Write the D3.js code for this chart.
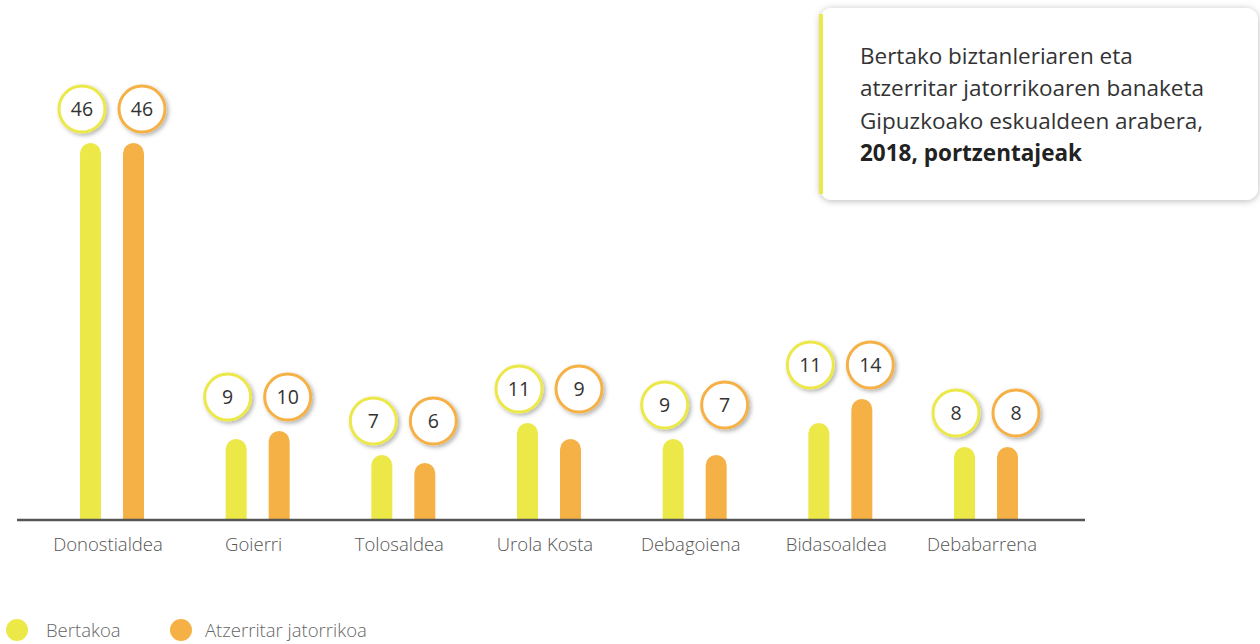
<!DOCTYPE html>
<html>
<head>
<meta charset="utf-8">
<script src="https://cdn.jsdelivr.net/npm/d3@7"></script>
<style>
  html, body { margin: 0; padding: 0; background: #fff; }
  svg { display: block; font-family: "Open Sans", "Noto Sans", sans-serif; }
</style>
</head>
<body>
<div id="chart"></div>
<script>
// Eskualdeak eta balioak (%)
const eskualdeak = ["Donostialdea", "Goierri", "Tolosaldea", "Urola Kosta", "Debagoiena", "Bidasoaldea", "Debabarrena"];
const bertakoa = [46, 9, 7, 11, 9, 11, 8];
const atzerritarra = [46, 10, 6, 9, 7, 14, 8];
const serieIzenak = ["Bertakoa", "Atzerritar jatorrikoa"];
const koloreak = ["#ece848", "#f5b145"];
const izenburua = ["Bertako biztanleriaren eta", "atzerritar jatorrikoaren banaketa", "Gipuzkoako eskualdeen arabera,"];
const izenburuLodia = "2018, portzentajeak";

const width = 1260, height = 644;
const baseY = 519;

const svg = d3.select("#chart").append("svg")
  .attr("width", width).attr("height", height);

const defs = svg.append("defs");
const shadow = defs.append("filter").attr("id", "itzala")
  .attr("x", "-30%").attr("y", "-30%").attr("width", "160%").attr("height", "160%");
shadow.append("feDropShadow").attr("dx", 2).attr("dy", 2)
  .attr("stdDeviation", 2).attr("flood-color", "#000").attr("flood-opacity", 0.3);
const boxShadow = defs.append("filter").attr("id", "kaxaItzala")
  .attr("x", "-10%").attr("y", "-20%").attr("width", "120%").attr("height", "140%");
boxShadow.append("feDropShadow").attr("dx", 0).attr("dy", 1)
  .attr("stdDeviation", 3.5).attr("flood-color", "#000").attr("flood-opacity", 0.28);

const x = d3.scalePoint().domain(eskualdeak).range([112, 986]);
const y = d3.scaleLinear().domain([0, 46]).range([baseY - 8, baseY - 376]);

const barW = 21, barOff = 21.5, circOff = 30, r = 23;

function barPath(cx, top) {
  const x0 = cx - barW / 2, x1 = cx + barW / 2, rr = barW / 2;
  return `M${x0},${baseY} L${x0},${top + rr} A${rr},${rr} 0 0 1 ${x1},${top + rr} L${x1},${baseY} Z`;
}

const datuak = eskualdeak.map((e, i) => ({ e, v: [bertakoa[i], atzerritarra[i]] }));

const taldeak = svg.append("g").selectAll("g").data(datuak).join("g");

// Barrak eta balio-biribilak
taldeak.each(function (d) {
  const g = d3.select(this);
  const cx = x(d.e);
  d.v.forEach((v, s) => {
    g.append("path")
      .attr("d", barPath(cx + (s === 0 ? -barOff : barOff), y(v)))
      .attr("fill", koloreak[s]);
  });
  const cy = y(d3.max(d.v)) - 34;
  d.v.forEach((v, s) => {
    const bx = cx + (s === 0 ? -circOff : circOff);
    g.append("circle")
      .attr("cx", bx).attr("cy", cy).attr("r", r)
      .attr("fill", "#fff").attr("stroke", koloreak[s]).attr("stroke-width", 3)
      .attr("filter", "url(#itzala)");
    g.append("text")
      .attr("x", bx).attr("y", cy).attr("dy", "0.36em")
      .attr("text-anchor", "middle")
      .attr("font-size", 19.5).attr("fill", "#333")
      .text(v);
  });
});

// Ardatza
svg.append("line")
  .attr("x1", 17).attr("x2", 1085).attr("y1", baseY + 1).attr("y2", baseY + 1)
  .attr("stroke", "#555").attr("stroke-width", 2.5);

svg.append("g").selectAll("text").data(eskualdeak).join("text")
  .attr("x", d => x(d) - 4).attr("y", 551)
  .attr("text-anchor", "middle")
  .attr("font-size", 18.5).attr("font-weight", 300).attr("fill", "#555")
  .text(d => d);

// Legenda
const legX = [17, 181];
const legTextX = [46, 205];
serieIzenak.forEach((n, s) => {
  svg.append("circle").attr("cx", legX[s]).attr("cy", 630).attr("r", 11).attr("fill", koloreak[s]);
  svg.append("text").attr("x", legTextX[s]).attr("y", 637)
    .attr("font-size", 18.5).attr("font-weight", 300).attr("fill", "#666")
    .text(n);
});

// Izenburu-kaxa
svg.append("rect")
  .attr("x", 820).attr("y", 8).attr("width", 438).attr("height", 192)
  .attr("rx", 12).attr("fill", "#fff").attr("filter", "url(#kaxaItzala)");
svg.append("rect")
  .attr("x", 819).attr("y", 14).attr("width", 4).attr("height", 180)
  .attr("fill", "#ece848");

const tit = svg.append("text").attr("font-size", 22.5).attr("fill", "#333");
izenburua.forEach((l, i) => {
  tit.append("tspan").attr("x", 860).attr("y", 64 + i * 32.3).text(l);
});
tit.append("tspan").attr("x", 860).attr("y", 64 + 3 * 32.3)
  .attr("font-weight", 700).attr("fill", "#222").text(izenburuLodia);
</script>
</body>
</html>
